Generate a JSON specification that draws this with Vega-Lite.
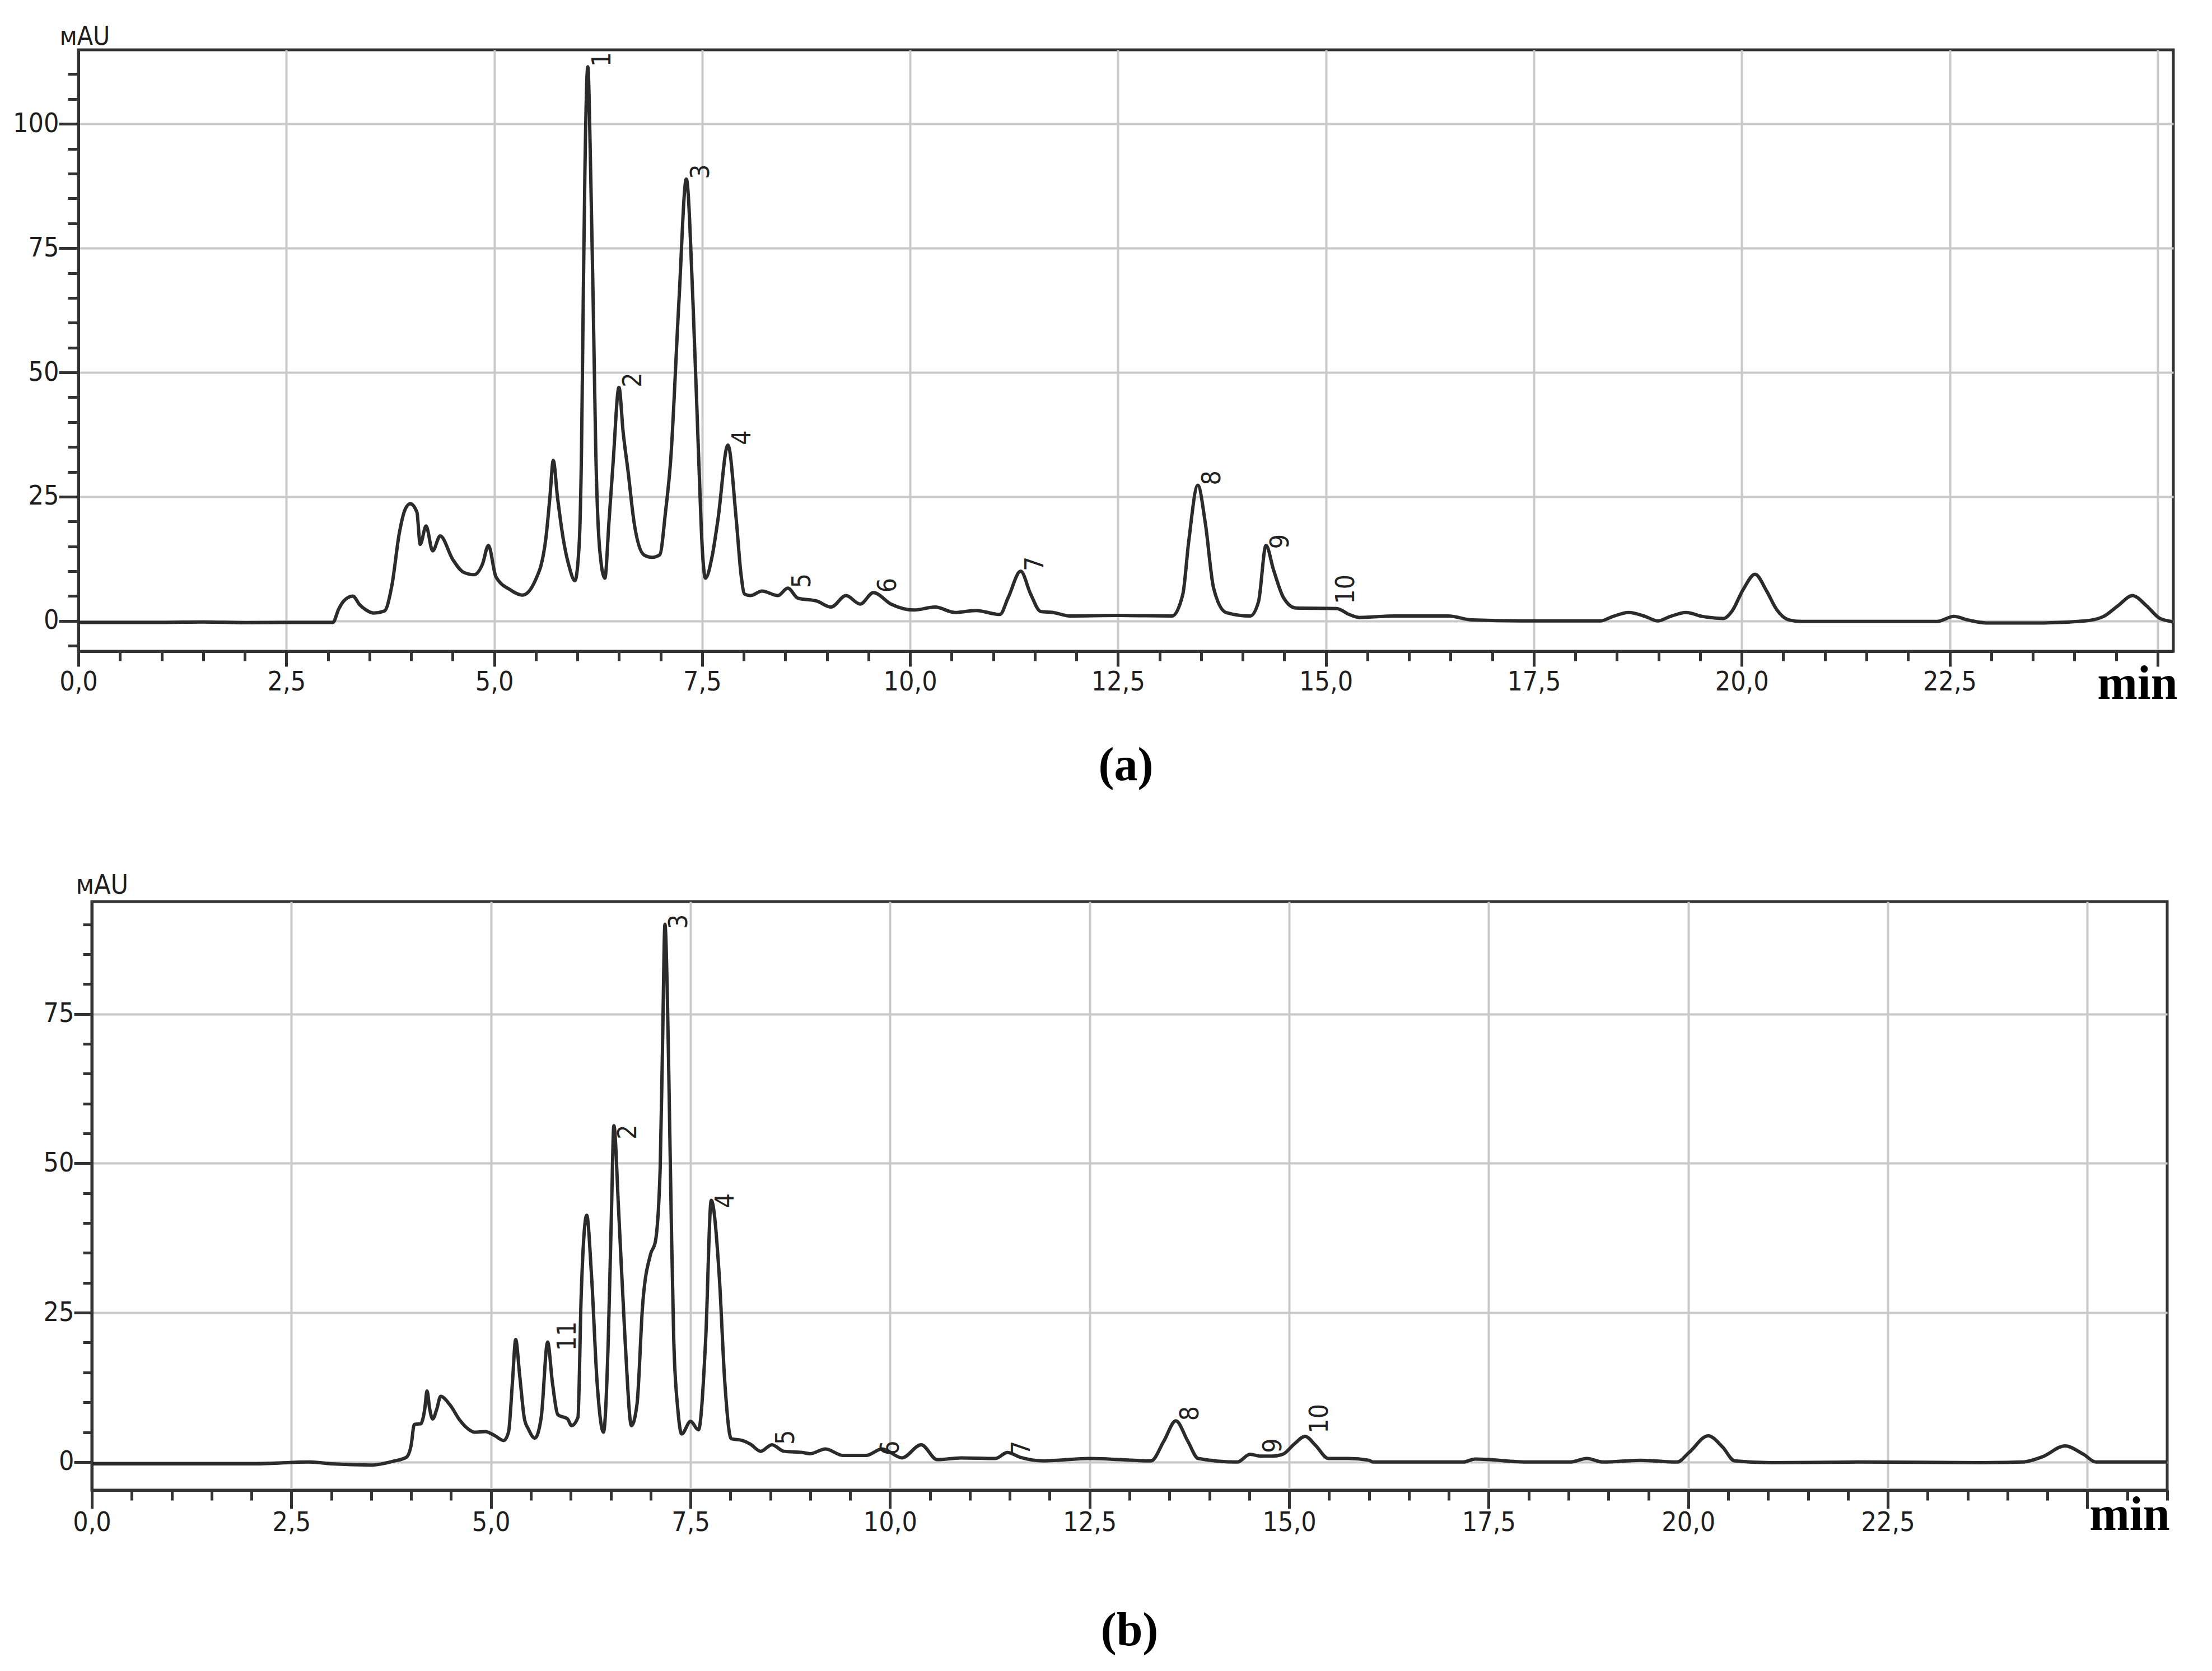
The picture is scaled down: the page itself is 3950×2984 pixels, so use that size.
{
  "$schema": "https://vega.github.io/schema/vega-lite/v6.json",
  "background": "white",
  "padding": {"left": 20, "top": 39, "right": 5, "bottom": 5},
  "datasets": {
    "a": [
      {"t":0,"v":-0.3},{"t":1.0,"v":-0.3},{"t":1.5,"v":-0.2},{"t":2.0,"v":-0.35},{"t":2.6,"v":-0.3},{"t":3.06,"v":-0.3},{"t":3.13,"v":2.4},{"t":3.19,"v":4.0},{"t":3.30,"v":5.0},{"t":3.38,"v":3.3},{"t":3.46,"v":2.2},{"t":3.55,"v":1.6},{"t":3.68,"v":2.0},{"t":3.77,"v":7.2},{"t":3.86,"v":17.8},{"t":3.93,"v":22.5},{"t":3.99,"v":23.6},{"t":4.07,"v":21.9},{"t":4.11,"v":15.4},{"t":4.18,"v":19.1},{"t":4.26,"v":14.1},{"t":4.35,"v":17.1},{"t":4.50,"v":12.4},{"t":4.63,"v":9.8},{"t":4.76,"v":9.3},{"t":4.86,"v":11.5},{"t":4.93,"v":15.2},{"t":5.02,"v":8.9},{"t":5.19,"v":6.3},{"t":5.34,"v":5.2},{"t":5.49,"v":8.0},{"t":5.62,"v":16.5},{"t":5.67,"v":25},{"t":5.71,"v":32.3},{"t":5.76,"v":25},{"t":5.83,"v":16.5},{"t":5.90,"v":11.0},{"t":5.97,"v":8.1},{"t":6.02,"v":15},{"t":6.05,"v":35},{"t":6.07,"v":64},{"t":6.09,"v":90},{"t":6.125,"v":111.5},{"t":6.16,"v":90},{"t":6.19,"v":64},{"t":6.22,"v":35},{"t":6.27,"v":14},{"t":6.33,"v":8.6},{"t":6.38,"v":20},{"t":6.43,"v":32},{"t":6.50,"v":47.0},{"t":6.55,"v":38},{"t":6.61,"v":30},{"t":6.68,"v":20},{"t":6.80,"v":13.3},{"t":6.90,"v":12.8},{"t":6.99,"v":13.3},{"t":7.06,"v":22},{"t":7.12,"v":32},{"t":7.22,"v":64},{"t":7.31,"v":88.9},{"t":7.39,"v":64},{"t":7.46,"v":32},{"t":7.50,"v":15},{"t":7.54,"v":8.6},{"t":7.62,"v":13},{"t":7.69,"v":20.4},{"t":7.81,"v":35.4},{"t":7.91,"v":20.4},{"t":7.97,"v":9},{"t":8.01,"v":5.4},{"t":8.08,"v":5.1},{"t":8.22,"v":6.0},{"t":8.41,"v":5.1},{"t":8.53,"v":6.6},{"t":8.65,"v":4.6},{"t":8.88,"v":4.0},{"t":9.05,"v":2.8},{"t":9.23,"v":5.1},{"t":9.40,"v":3.4},{"t":9.56,"v":5.7},{"t":9.77,"v":3.4},{"t":10.05,"v":2.2},{"t":10.3,"v":2.8},{"t":10.54,"v":1.7},{"t":10.79,"v":2.1},{"t":11.08,"v":1.3},{"t":11.18,"v":4.7},{"t":11.33,"v":10.0},{"t":11.45,"v":5.4},{"t":11.57,"v":1.9},{"t":11.72,"v":1.7},{"t":11.92,"v":1.0},{"t":12.51,"v":1.1},{"t":13.15,"v":1.0},{"t":13.28,"v":5.4},{"t":13.35,"v":15.9},{"t":13.46,"v":27.3},{"t":13.55,"v":19.7},{"t":13.65,"v":6.6},{"t":13.80,"v":1.7},{"t":14.09,"v":1.0},{"t":14.19,"v":3.9},{"t":14.28,"v":15.2},{"t":14.37,"v":10.3},{"t":14.49,"v":4.7},{"t":14.64,"v":2.6},{"t":15.13,"v":2.5},{"t":15.28,"v":1.3},{"t":15.40,"v":0.7},{"t":15.83,"v":1.0},{"t":16.47,"v":1.0},{"t":16.76,"v":0.2},{"t":17.35,"v":0},{"t":17.95,"v":0},{"t":18.30,"v":0},{"t":18.45,"v":0.9},{"t":18.64,"v":1.7},{"t":18.84,"v":0.9},{"t":18.99,"v":0},{"t":19.14,"v":0.9},{"t":19.33,"v":1.7},{"t":19.53,"v":0.9},{"t":19.78,"v":0.5},{"t":19.88,"v":1.9},{"t":20.02,"v":6.4},{"t":20.16,"v":9.4},{"t":20.30,"v":6.0},{"t":20.42,"v":2.3},{"t":20.57,"v":0.2},{"t":20.72,"v":-0.1},{"t":22.35,"v":-0.1},{"t":22.55,"v":0.9},{"t":22.72,"v":0.2},{"t":22.94,"v":-0.4},{"t":23.63,"v":-0.4},{"t":24.13,"v":0},{"t":24.35,"v":0.9},{"t":24.52,"v":3.0},{"t":24.70,"v":5.1},{"t":24.87,"v":3.0},{"t":25.02,"v":0.6},{"t":25.16,"v":-0.1},{"t":25.19,"v":-0.2}
    ],
    "alab": [
      {"t":6.125,"v":111.5,"peak":"1"},{"t":6.50,"v":47.0,"peak":"2"},{"t":7.31,"v":88.9,"peak":"3"},{"t":7.81,"v":35.4,"peak":"4"},{"t":8.53,"v":6.6,"peak":"5"},{"t":9.56,"v":5.7,"peak":"6"},{"t":11.33,"v":10.0,"peak":"7"},{"t":13.46,"v":27.3,"peak":"8"},{"t":14.28,"v":14.5,"peak":"9"},{"t":15.07,"v":3.4,"peak":"10"}
    ],
    "b": [
      {"t":0,"v":-0.3},{"t":1.0,"v":-0.3},{"t":2.0,"v":-0.3},{"t":2.73,"v":0},{"t":3.0,"v":-0.3},{"t":3.50,"v":-0.5},{"t":3.78,"v":0.15},{"t":3.94,"v":0.8},{"t":4.00,"v":2.8},{"t":4.04,"v":6.3},{"t":4.12,"v":6.4},{"t":4.17,"v":8.8},{"t":4.20,"v":11.9},{"t":4.23,"v":9.1},{"t":4.27,"v":7.2},{"t":4.32,"v":8.8},{"t":4.37,"v":11.0},{"t":4.49,"v":9.5},{"t":4.61,"v":7.0},{"t":4.74,"v":5.3},{"t":4.79,"v":5.0},{"t":4.93,"v":5.1},{"t":5.05,"v":4.4},{"t":5.16,"v":3.6},{"t":5.22,"v":5.0},{"t":5.27,"v":13.5},{"t":5.31,"v":20.5},{"t":5.36,"v":14.5},{"t":5.42,"v":7.2},{"t":5.47,"v":5.5},{"t":5.55,"v":4.0},{"t":5.63,"v":7.5},{"t":5.71,"v":20.1},{"t":5.77,"v":13.3},{"t":5.84,"v":7.9},{"t":5.96,"v":7.2},{"t":6.01,"v":6.1},{"t":6.09,"v":7.5},{"t":6.13,"v":27.6},{"t":6.20,"v":41.3},{"t":6.26,"v":31.2},{"t":6.33,"v":13.3},{"t":6.41,"v":5.0},{"t":6.47,"v":20.5},{"t":6.51,"v":42.0},{"t":6.54,"v":56.3},{"t":6.60,"v":42.0},{"t":6.68,"v":20.5},{"t":6.76,"v":6.1},{"t":6.83,"v":9.7},{"t":6.90,"v":26.2},{"t":7.00,"v":34.8},{"t":7.06,"v":36.9},{"t":7.12,"v":49.1},{"t":7.15,"v":70},{"t":7.18,"v":90.0},{"t":7.21,"v":78},{"t":7.23,"v":63.5},{"t":7.26,"v":40},{"t":7.29,"v":20.5},{"t":7.34,"v":9},{"t":7.39,"v":4.7},{"t":7.50,"v":6.8},{"t":7.60,"v":5.4},{"t":7.69,"v":20.5},{"t":7.76,"v":43.8},{"t":7.86,"v":31.2},{"t":7.93,"v":13.3},{"t":8.01,"v":3.9},{"t":8.15,"v":3.6},{"t":8.25,"v":3.0},{"t":8.38,"v":1.8},{"t":8.52,"v":2.9},{"t":8.67,"v":1.8},{"t":8.9,"v":1.6},{"t":9.0,"v":1.4},{"t":9.19,"v":2.2},{"t":9.41,"v":1.1},{"t":9.70,"v":1.1},{"t":9.90,"v":2.2},{"t":10.15,"v":0.7},{"t":10.39,"v":2.9},{"t":10.59,"v":0.4},{"t":10.89,"v":0.7},{"t":11.32,"v":0.6},{"t":11.47,"v":1.6},{"t":11.63,"v":0.8},{"t":11.93,"v":0.2},{"t":12.50,"v":0.6},{"t":13.27,"v":0.2},{"t":13.43,"v":3.5},{"t":13.58,"v":6.9},{"t":13.73,"v":3.5},{"t":13.86,"v":0.6},{"t":14.35,"v":0},{"t":14.51,"v":1.3},{"t":14.64,"v":1.0},{"t":14.79,"v":1.0},{"t":14.92,"v":1.3},{"t":15.07,"v":3.1},{"t":15.20,"v":4.3},{"t":15.33,"v":2.8},{"t":15.49,"v":0.6},{"t":15.74,"v":0.6},{"t":16.00,"v":0.3},{"t":16.05,"v":0},{"t":17.18,"v":0},{"t":17.33,"v":0.5},{"t":18.00,"v":0},{"t":18.52,"v":0},{"t":18.73,"v":0.6},{"t":18.93,"v":0},{"t":19.40,"v":0.3},{"t":19.86,"v":0},{"t":20.01,"v":1.6},{"t":20.25,"v":4.4},{"t":20.43,"v":2.5},{"t":20.58,"v":0.2},{"t":21.04,"v":-0.1},{"t":22.12,"v":0},{"t":23.67,"v":-0.1},{"t":24.18,"v":0},{"t":24.44,"v":0.9},{"t":24.72,"v":2.7},{"t":24.95,"v":1.3},{"t":25.11,"v":0},{"t":26.0,"v":0}
    ],
    "blab": [
      {"t":5.78,"v":18.6,"peak":"11"},{"t":6.54,"v":54.0,"peak":"2"},{"t":7.18,"v":89.2,"peak":"3"},{"t":7.76,"v":42.5,"peak":"4"},{"t":8.52,"v":2.9,"peak":"5"},{"t":9.83,"v":1.1,"peak":"6"},{"t":11.47,"v":1.1,"peak":"7"},{"t":13.58,"v":6.9,"peak":"8"},{"t":14.62,"v":1.5,"peak":"9"},{"t":15.20,"v":4.8,"peak":"10"}
    ]
  },
  "bounds": "flush",
  "spacing": 447,
  "vconcat": [
    {
      "width": 3741,
      "height": 1074,
      "title": {"text": "(a)", "orient": "bottom", "anchor": "middle", "font": "Liberation Serif", "fontSize": 84, "fontWeight": "bold", "color": "#000", "offset": 63},
      "encoding": {
        "x": {
          "field": "t", "type": "quantitative",
          "scale": {"domain": [0, 25.19], "nice": false, "zero": false},
          "axis": {
            "values": [0,0.5,1,1.5,2,2.5,3,3.5,4,4.5,5,5.5,6,6.5,7,7.5,8,8.5,9,9.5,10,10.5,11,11.5,12,12.5,13,13.5,14,14.5,15,15.5,16,16.5,17,17.5,18,18.5,19,19.5,20,20.5,21,21.5,22,22.5,23,23.5,24,24.5,25],
            "labelExpr": "datum.value % 2.5 === 0 && datum.value < 24.9 ? replace(format(datum.value, '.1f'), '.', ',') : ''",
            "tickSize": {"condition": {"test": "datum.value % 2.5 === 0", "value": 27}, "value": 17},
            "gridOpacity": {"condition": {"test": "datum.value % 2.5 === 0", "value": 1}, "value": 0},
            "labelPadding": 4,
            "title": "min", "titleX": 3748, "titleY": 84, "titleAlign": "right", "titleBaseline": "alphabetic",
            "titleFont": "Liberation Serif", "titleFontWeight": "bold", "titleFontSize": 86, "titleColor": "#000"
          }
        },
        "y": {
          "field": "v", "type": "quantitative",
          "scale": {"domain": [-6.1, 114.9], "nice": false, "zero": false},
          "axis": {
            "values": [-5,0,5,10,15,20,25,30,35,40,45,50,55,60,65,70,75,80,85,90,95,100,105,110],
            "labelExpr": "datum.value % 25 === 0 ? '' + datum.value : ''",
            "tickSize": {"condition": {"test": "datum.value % 25 === 0", "value": 35}, "value": 19},
            "gridOpacity": {"condition": {"test": "datum.value % 25 === 0", "value": 1}, "value": 0},
            "labelPadding": 0,
            "title": "мAU", "titleAngle": 0, "titleX": -34, "titleY": -10, "titleAlign": "left", "titleBaseline": "alphabetic",
            "titleFont": "'Liberation Sans Narrow', 'DejaVu Sans Condensed', 'Liberation Sans', sans-serif", "titleFontSize": 46, "titleFontWeight": "normal", "titleColor": "#1e1e1e"
          }
        }
      },
      "layer": [
        {"data": {"name": "a"}, "mark": {"type": "line", "color": "#2b2b2b", "strokeWidth": 6, "interpolate": "monotone"}},
        {"data": {"name": "alab"}, "mark": {"type": "text", "angle": 270, "align": "left", "baseline": "top", "dy": 4, "font": "'Liberation Sans Narrow', 'DejaVu Sans Condensed', 'Liberation Sans', sans-serif", "fontSize": 46, "color": "#222"}, "encoding": {"text": {"field": "peak"}}}
      ]
    },
    {
      "bounds": "flush",
      "spacing": 0,
      "hconcat": [
        {"width": 24, "height": 1051, "data": {"values": []}, "mark": {"type": "point", "opacity": 0}, "view": {"stroke": null}},
        {
          "width": 3706,
          "height": 1051,
          "title": {"text": "(b)", "orient": "bottom", "anchor": "middle", "font": "Liberation Serif", "fontSize": 84, "fontWeight": "bold", "color": "#000", "offset": 124},
          "encoding": {
            "x": {
              "field": "t", "type": "quantitative",
              "scale": {"domain": [0, 26.0], "nice": false, "zero": false},
              "axis": {
                "values": [0,0.5,1,1.5,2,2.5,3,3.5,4,4.5,5,5.5,6,6.5,7,7.5,8,8.5,9,9.5,10,10.5,11,11.5,12,12.5,13,13.5,14,14.5,15,15.5,16,16.5,17,17.5,18,18.5,19,19.5,20,20.5,21,21.5,22,22.5,23,23.5,24,24.5,25,25.5,26],
                "labelExpr": "datum.value % 2.5 === 0 && datum.value < 24.9 ? replace(format(datum.value, '.1f'), '.', ',') : ''",
                "tickSize": {"condition": {"test": "datum.value % 2.5 === 0", "value": 33}, "value": 18},
                "gridOpacity": {"condition": {"test": "datum.value % 2.5 === 0", "value": 1}, "value": 0},
                "labelPadding": 1,
                "title": "min", "titleX": 3710, "titleY": 70, "titleAlign": "right", "titleBaseline": "alphabetic",
                "titleFont": "Liberation Serif", "titleFontWeight": "bold", "titleFontSize": 86, "titleColor": "#000"
              }
            },
            "y": {
              "field": "v", "type": "quantitative",
              "scale": {"domain": [-4.7, 93.8], "nice": false, "zero": false},
              "axis": {
                "values": [0,5,10,15,20,25,30,35,40,45,50,55,60,65,70,75,80,85,90],
                "labelExpr": "datum.value % 25 === 0 ? '' + datum.value : ''",
                "tickSize": {"condition": {"test": "datum.value % 25 === 0", "value": 32}, "value": 16},
                "gridOpacity": {"condition": {"test": "datum.value % 25 === 0", "value": 1}, "value": 0},
                "labelPadding": 0,
                "title": "мAU", "titleAngle": 0, "titleX": -29, "titleY": -15, "titleAlign": "left", "titleBaseline": "alphabetic",
                "titleFont": "'Liberation Sans Narrow', 'DejaVu Sans Condensed', 'Liberation Sans', sans-serif", "titleFontSize": 48, "titleFontWeight": "normal", "titleColor": "#1e1e1e"
              }
            }
          },
          "layer": [
            {"data": {"name": "b"}, "mark": {"type": "line", "color": "#2b2b2b", "strokeWidth": 6, "interpolate": "monotone"}},
            {"data": {"name": "blab"}, "mark": {"type": "text", "angle": 270, "align": "left", "baseline": "top", "dy": 4, "font": "'Liberation Sans Narrow', 'DejaVu Sans Condensed', 'Liberation Sans', sans-serif", "fontSize": 46, "color": "#222"}, "encoding": {"text": {"field": "peak"}}}
          ]
        }
      ]
    }
  ],
  "config": {
    "view": {"stroke": "#333", "strokeWidth": 5},
    "axis": {
      "domainColor": "#333", "domainWidth": 5,
      "tickColor": "#333", "tickWidth": 5,
      "gridColor": "#c9c9c9", "gridWidth": 4,
      "labelFont": "'Liberation Sans Narrow', 'DejaVu Sans Condensed', 'Liberation Sans', sans-serif", "labelFontSize": 48, "labelColor": "#1e1e1e",
      "labelOverlap": false, "labelBound": false, "labelFlush": false
    }
  }
}
